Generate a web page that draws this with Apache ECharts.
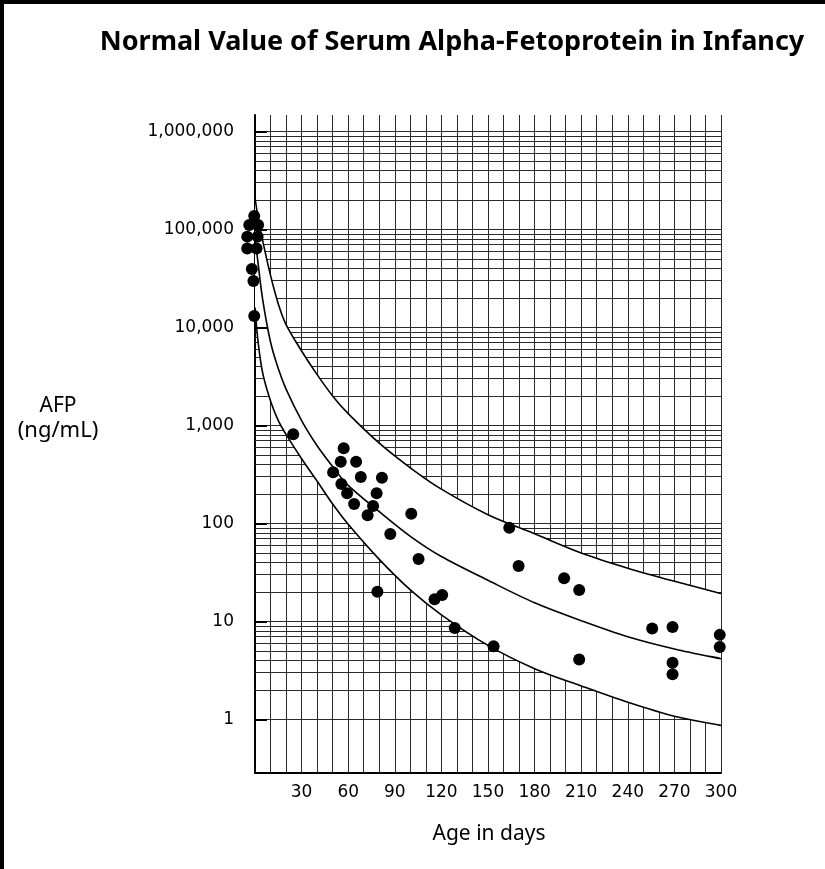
<!DOCTYPE html>
<html><head><meta charset="utf-8">
<script src="https://cdn.jsdelivr.net/npm/echarts@6/dist/echarts.min.js"></script>
<style>html,body{margin:0;padding:0;background:#fff}#c{width:825px;height:869px}</style>
</head><body><div id="c"></div>
<script>
// Reference curves, ng/mL by age in days
const curveDays   = [0, 2, 5, 10, 15, 20, 30, 40, 50, 60, 80, 100, 120, 150, 180, 210, 240, 270, 300];
const upperLimit  = [210000, 132000, 76000, 34000, 17400, 10700, 5750, 3300, 2000, 1320, 660, 370, 224, 123, 78.5, 50, 35, 25.7, 19.3];
const medianCurve = [83000, 45000, 19000, 7100, 3800, 2350, 1120, 620, 380, 245, 132, 74, 46, 26.3, 15.5, 10.2, 7.0, 5.25, 4.17];
const lowerLimit  = [16000, 7100, 3400, 1780, 1120, 810, 457, 270, 158, 98, 43, 21, 11.7, 5.7, 3.3, 2.2, 1.5, 1.08, 0.87];

// Observed infants
const pointDays = [-0.5, -3.7, 2, -5, 1.7, -5, 1, -2, -1, -0.5,
  24.6, 57.1, 55.2, 65.1, 50.3, 68.1, 81.7, 55.6, 59.3, 78.3, 63.8, 76, 72.5, 100.6, 87.1,
  163.7, 105.3, 169.7, 78.8, 120.5, 115.6, 128.6, 153.6, 199, 208.7, 255.7, 268.8, 299.2, 299.2, 208.7, 268.8, 268.8];
const pointAFP = [137000, 111000, 111000, 84500, 84500, 64000, 64000, 39500, 29800, 13100,
  813, 585, 427, 427, 333, 298, 293, 253, 203, 203, 158, 151, 121, 126, 78,
  90.6, 43.4, 36.8, 20.1, 18.6, 16.9, 8.6, 5.6, 27.6, 21, 8.5, 8.8, 7.3, 5.5, 4.1, 3.8, 2.9];

const xTickLabels = ['30', '60', '90', '120', '150', '180', '210', '240', '270', '300'];
const yTickValues = [1, 10, 100, 1000, 10000, 100000, 1000000];
const yTickLabels = ['1', '10', '100', '1,000', '10,000', '100,000', '1,000,000'];
const gridDecades = [1, 10, 100, 1000, 10000, 100000];
const gridSteps = [1, 2, 3, 4, 5, 6, 7, 8, 9];

const gridValues = [];
gridDecades.forEach(d => gridSteps.forEach(s => gridValues.push(d * s)));
gridValues.push(1000000);

const pointData = pointDays.map((d, i) => [d, pointAFP[i]]);

const gridColor = '#2a2a2a';
const humanist = '"Noto Sans", "Open Sans", sans-serif';
const labelFont = '"DejaVu Sans", sans-serif';
const TICK_DAYS = 7.7; // inward tick length expressed along the day axis

// Catmull-Rom spline through pixel points -> SVG path commands
function splineCmds(pts, start) {
  let s = (start ? 'M' : 'L') + pts[0][0] + ' ' + pts[0][1];
  for (let i = 0; i < pts.length - 1; i++) {
    const p0 = pts[Math.max(i - 1, 0)], p1 = pts[i], p2 = pts[i + 1], p3 = pts[Math.min(i + 2, pts.length - 1)];
    const c1x = p1[0] + (p2[0] - p0[0]) / 6, c1y = p1[1] + (p2[1] - p0[1]) / 6;
    const c2x = p2[0] - (p3[0] - p1[0]) / 6, c2y = p2[1] - (p3[1] - p1[1]) / 6;
    s += ' C' + c1x + ' ' + c1y + ' ' + c2x + ' ' + c2y + ' ' + p2[0] + ' ' + p2[1];
  }
  return s;
}

function renderCurves(params, api) {
  if (params.dataIndex !== 0) return;
  const up = curveDays.map((d, i) => api.coord([d, upperLimit[i]]));
  const md = curveDays.map((d, i) => api.coord([d, medianCurve[i]]));
  const lo = curveDays.map((d, i) => api.coord([d, lowerLimit[i]]));
  const band = splineCmds(up, true) + ' ' + splineCmds(lo.slice().reverse(), false) + ' Z';
  const stroke = {fill: null, stroke: '#000', lineWidth: 1.6};
  return {
    type: 'group',
    children: [
      {type: 'path', shape: {pathData: band}, style: {fill: '#fff', stroke: null}},
      {type: 'path', shape: {pathData: splineCmds(up, true)}, style: stroke},
      {type: 'path', shape: {pathData: splineCmds(md, true)}, style: stroke},
      {type: 'path', shape: {pathData: splineCmds(lo, true)}, style: stroke}
    ]
  };
}

const chart = echarts.init(document.getElementById('c'), null, {renderer: 'canvas'});
chart.setOption({
  animation: false,
  backgroundColor: '#fff',
  grid: {left: 255, right: 104, top: 115, bottom: 96, containLabel: false},
  xAxis: {
    type: 'value', min: 0, max: 300, interval: 30,
    axisLine: {show: true, onZero: false, lineStyle: {color: '#000', width: 2}},
    axisTick: {show: false},
    axisLabel: {
      color: '#000', fontFamily: labelFont, fontSize: 17, margin: 11,
      formatter: v => { const s = String(Math.round(v)); return xTickLabels.includes(s) ? s : ''; }
    },
    splitLine: {show: true, lineStyle: {color: gridColor, width: 1}},
    minorTick: {show: false, splitNumber: 3},
    minorSplitLine: {show: true, lineStyle: {color: gridColor, width: 1}}
  },
  yAxis: {
    type: 'log', logBase: 10, min: 0.2844, max: 1472000,
    axisLine: {show: true, onZero: false, lineStyle: {color: '#000', width: 2}},
    axisTick: {show: false},
    axisLabel: {
      color: '#000', fontFamily: labelFont, fontSize: 17, margin: 21,
      formatter: v => {
        const k = yTickValues.findIndex(t => Math.abs(Math.log10(v) - Math.log10(t)) < 1e-6);
        return k >= 0 ? yTickLabels[k] : '';
      }
    },
    splitLine: {show: false},
    minorSplitLine: {show: false}
  },
  series: [
    {
      name: 'grid', type: 'line', data: [], z: 1, silent: true,
      markLine: {
        z: 1, silent: true, symbol: ['none', 'none'], label: {show: false}, animation: false,
        lineStyle: {color: gridColor, width: 1, type: 'solid'},
        emphasis: {disabled: true},
        data: gridValues.map(v => ({yAxis: v}))
      }
    },
    {
      name: 'curves', type: 'custom', data: [[0, 1]], z: 3, silent: true, clip: true,
      renderItem: renderCurves
    },
    {
      name: 'ticks', type: 'line', data: [], z: 4, silent: true,
      markLine: {
        z: 4, silent: true, symbol: ['none', 'none'], label: {show: false}, animation: false,
        lineStyle: {color: '#000', width: 2, type: 'solid'},
        emphasis: {disabled: true},
        data: yTickValues.map(v => [{coord: [0, v]}, {coord: [TICK_DAYS, v]}])
      }
    },
    {
      name: 'infants', type: 'scatter', data: pointData, z: 5, clip: false,
      symbol: 'circle', symbolSize: 12, itemStyle: {color: '#000', opacity: 1}
    }
  ],
  graphic: [
    {type: 'line', shape: {x1: 0, y1: 2, x2: 825, y2: 2}, style: {stroke: '#000', lineWidth: 4}},
    {type: 'line', shape: {x1: 2, y1: 0, x2: 2, y2: 869}, style: {stroke: '#000', lineWidth: 4}},
    {type: 'text', x: 452, y: 42, style: {text: 'Normal Value of Serum Alpha-Fetoprotein in Infancy',
      font: 'bold 27px ' + humanist, fill: '#000', textAlign: 'center', textVerticalAlign: 'middle'}},
    {type: 'text', x: 58, y: 406, style: {text: 'AFP', font: '21px ' + humanist, fill: '#000', textAlign: 'center', textVerticalAlign: 'middle'}},
    {type: 'text', x: 58, y: 431, style: {text: '(ng/mL)', font: '22px ' + humanist, fill: '#000', textAlign: 'center', textVerticalAlign: 'middle'}},
    {type: 'text', x: 489, y: 834, style: {text: 'Age in days', font: '21px ' + humanist, fill: '#000', textAlign: 'center', textVerticalAlign: 'middle'}}
  ]
});
</script></body></html>
